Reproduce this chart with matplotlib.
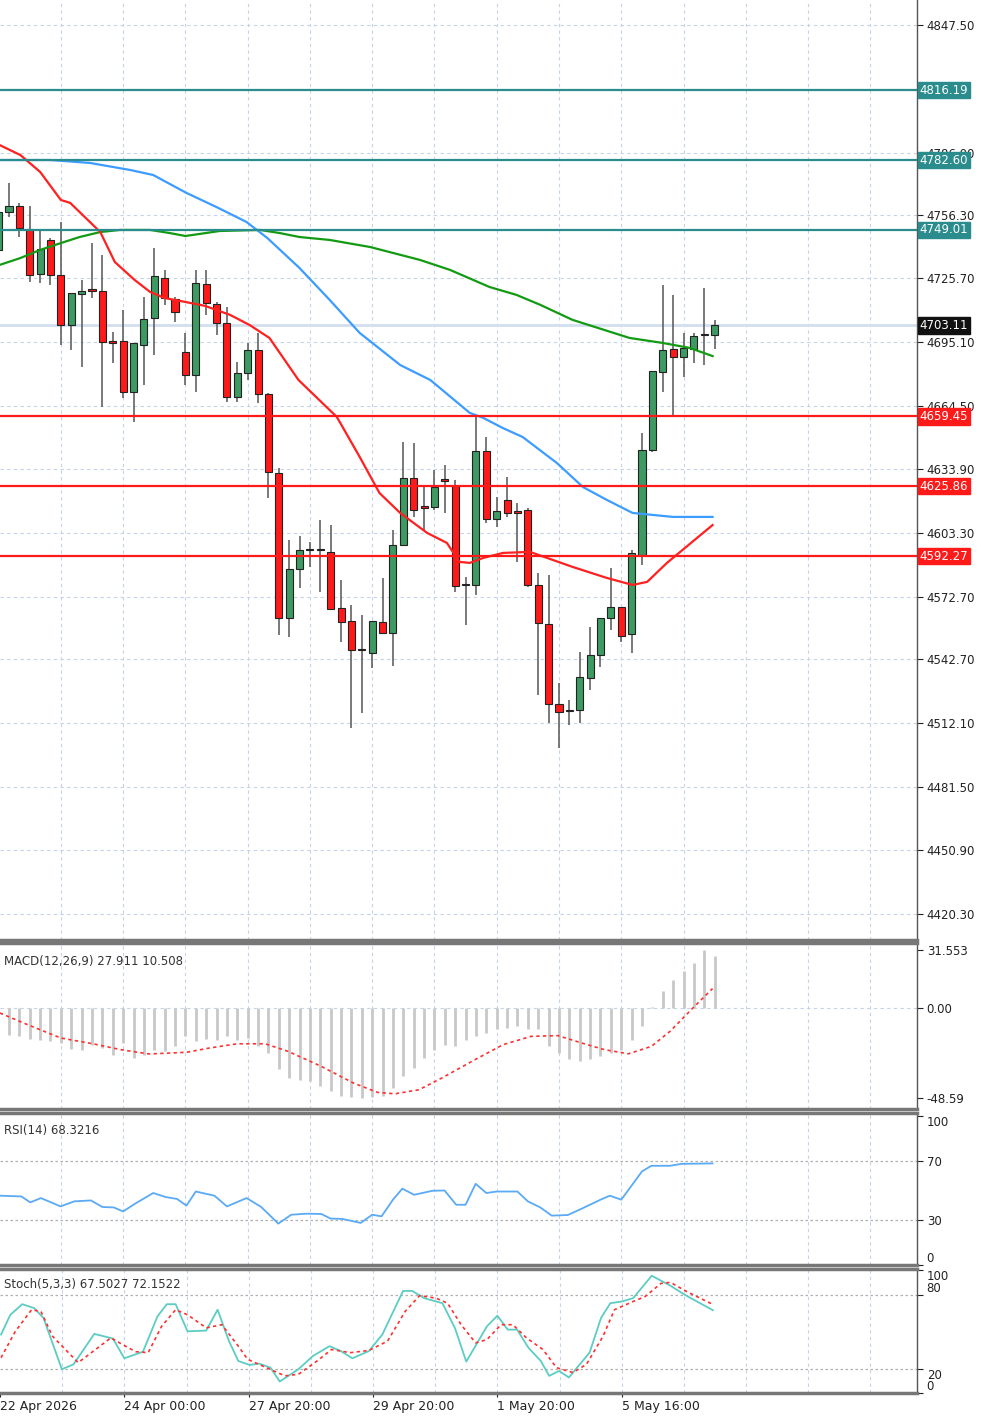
import numpy as np
import matplotlib
matplotlib.use("Agg")
import matplotlib.pyplot as plt

# ---------------- data ----------------
opens = [4739.4,4757.6,4760.5,4749.5,4727.9,4744.2,4727.4,4703.3,4718.2,4720.2,
         4719.7,4695.2,4695.7,4671.1,4693.7,4706.7,4725.9,4715.8,4690.4,4679.3,
         4723.0,4713.4,4704.3,4668.7,4680.3,4691.3,4670.2,4632.2,4562.5,4586.1,
         4595.2,4595.2,4594.3,4567.4,4561.1,4547.2,4545.7,4560.6,4555.4,4597.6,
         4629.8,4615.9,4615.9,4628.9,4626.0,4578.4,4578.4,4642.8,4610.1,4619.3,
         4613.5,4614.5,4578.4,4559.7,4521.2,4517.9,4518.4,4533.7,4544.8,4562.5,
         4567.8,4554.9,4592.8,4643.3,4680.8,4691.8,4688.0,4691.8,4698.6,4698.6]
highs = [4763.4,4771.6,4762.0,4760.5,4749.0,4745.1,4752.8,4718.7,4725.0,4742.7,
         4737.0,4700.0,4710.5,4694.7,4716.8,4740.3,4729.8,4716.8,4699.5,4729.8,
         4729.8,4714.4,4712.0,4685.6,4694.7,4699.5,4670.7,4634.6,4600.0,4602.0,
         4599.1,4609.6,4607.2,4580.8,4568.8,4564.0,4561.1,4581.8,4604.8,4647.1,
         4646.6,4625.5,4633.7,4636.1,4628.9,4582.3,4660.1,4649.5,4620.8,4630.3,
         4617.8,4615.4,4584.2,4583.2,4531.3,4523.2,4546.2,4558.2,4562.5,4586.6,
         4567.8,4595.2,4651.4,4681.2,4722.6,4717.8,4699.5,4699.5,4721.1,4705.8]
lows = [4735.5,4755.2,4745.6,4724.0,4723.5,4722.6,4693.7,4691.3,4683.2,4716.3,
        4663.9,4685.1,4668.3,4656.7,4674.5,4688.9,4713.0,4704.8,4674.5,4671.1,
        4708.2,4698.5,4666.3,4666.3,4676.9,4665.9,4620.2,4554.4,4553.4,4577.0,
        4587.1,4575.0,4566.9,4551.0,4509.7,4516.9,4538.5,4555.4,4539.5,4597.6,
        4611.1,4604.8,4614.4,4613.0,4575.0,4559.2,4573.6,4608.2,4606.3,4611.1,
        4589.5,4577.4,4525.5,4512.1,4500.1,4511.1,4512.1,4528.0,4539.0,4556.8,
        4551.0,4545.7,4588.0,4642.3,4671.1,4660.1,4678.4,4685.1,4684.1,4691.8]
closes = [4757.6,4760.5,4750.0,4727.4,4739.9,4727.4,4703.3,4718.7,4719.7,4719.9,
          4695.2,4694.9,4671.1,4694.7,4706.2,4726.9,4716.3,4709.6,4679.3,4723.5,
          4713.9,4704.3,4668.7,4680.3,4691.3,4670.2,4632.7,4562.5,4586.1,4595.2,
          4595.2,4595.0,4566.9,4560.6,4547.2,4547.0,4561.1,4555.4,4597.6,4629.8,
          4614.4,4615.6,4625.5,4628.6,4577.9,4578.2,4642.8,4610.1,4614.0,4613.0,
          4613.2,4578.4,4560.2,4521.2,4517.4,4517.6,4534.2,4544.8,4562.5,4567.8,
          4553.9,4593.8,4643.3,4681.2,4691.3,4688.0,4692.3,4698.1,4698.3,4703.1]

ma_red_x = [0.1,2.1,4.0,6.0,6.9,8.8,9.8,11.2,13.1,14.6,16.0,18.0,19.9,22.3,24.2,26.1,28.9,32.6,
            34.8,36.7,38.7,41.3,43.2,44.4,45.4,46.7,48.6,51.2,55.3,58.6,61.1,62.5,64.4,65.9,68.8]
ma_red_y = [4789.8,4785.0,4776.9,4763.4,4762.0,4752.8,4748.0,4733.6,4725.0,4719.2,4716.3,4714.4,
            4712.5,4708.2,4703.3,4697.1,4676.9,4659.1,4639.9,4622.6,4613.0,4603.4,4598.6,4589.5,
            4589.0,4591.4,4593.8,4594.3,4587.1,4581.8,4578.4,4579.9,4589.0,4595.2,4607.2]
ma_blue_x = [0.1,5.0,8.8,12.7,14.9,18.1,21.0,23.9,25.9,29.0,31.9,34.8,38.7,41.6,45.4,46.7,48.6,
             50.5,53.8,56.3,58.6,61.1,65.0,68.8]
ma_blue_y = [4782.6,4782.6,4781.2,4777.8,4775.4,4766.8,4760.0,4752.8,4745.1,4730.7,4715.4,4699.5,
             4684.1,4676.9,4661.1,4658.7,4653.8,4649.5,4637.0,4625.5,4619.3,4613.0,4611.1,4611.1]
ma_green_x = [0.1,2.1,4.0,6.0,7.8,9.8,11.7,14.6,16.5,18.0,19.4,21.3,25.2,27.1,29.0,31.9,35.8,40.6,
              43.5,47.3,49.9,52.2,55.3,60.8,64.0,66.6,68.8]
ma_green_y = [4732.2,4735.5,4739.4,4742.7,4745.6,4748.0,4749.0,4749.0,4747.5,4746.1,4747.1,4748.5,
              4749.0,4747.5,4745.6,4744.2,4740.8,4734.6,4729.8,4721.6,4717.8,4713.0,4705.8,4697.1,
              4694.7,4692.3,4688.4]

teal_levels = [4816.19, 4782.60, 4749.01]
red_levels = [4659.45, 4625.86, 4592.27]
last_price = 4703.11
price_ticks = [4847.50,4816.90,4786.00,4756.30,4725.70,4695.10,4664.50,4633.90,4603.30,
               4572.70,4542.70,4512.10,4481.50,4450.90,4420.30]
hidden_ticks = [4816.90]

macd_hist = [-14.4,-15.3,-16.7,-17.5,-18.0,-18.9,-22.1,-22.5,-19.8,-21.6,-25.2,-18.9,-27.0,-25.2,
             -22.5,-23.4,-20.3,-15.3,-18.0,-16.7,-17.1,-15.3,-17.1,-16.2,-20.3,-24.3,-32.9,-37.8,
             -38.7,-39.6,-42.3,-45.0,-47.3,-48.1,-48.5,-48.1,-47.7,-43.2,-36.5,-32.4,-27.0,-22.5,
             -19.8,-20.3,-17.1,-15.3,-13.5,-11.3,-10.8,-9.5,-11.3,-11.3,-20.3,-24.3,-27.5,-28.8,
             -27.5,-26.1,-24.3,-22.5,-17.1,-9.5,0.5,9.0,15.3,19.8,24.3,31.5,27.9]
macd_sig_x = [0.13,2.8,6.0,9.1,11.8,14.5,18.1,20.3,23.0,25.7,27.9,31.1,34.2,36.5,38.2,40.5,42.7,
              45.9,48.6,51.3,53.9,56.2,58.4,60.7,62.9,64.7,66.9,68.8]
macd_sig_y = [-2.7,-9.0,-16.2,-19.3,-22.5,-24.8,-23.9,-21.6,-19.3,-19.3,-23.4,-31.5,-40.5,-45.5,
              -46.3,-44.1,-37.8,-27.9,-19.8,-15.3,-14.9,-18.9,-22.5,-24.7,-20.7,-12.6,0.0,10.5]

rsi_x = [0.1,2.2,3.05,4.08,5.97,7.3,8.9,10.0,11.1,12.0,13.1,14.9,16.1,17.2,18.1,19.0,20.8,22.0,
         23.9,25.3,26.4,26.95,28.2,29.7,31.1,32.0,33.1,34.9,36.0,36.9,38.0,38.9,40.05,41.8,42.97,
         44.1,45.0,45.97,47.0,48.0,50.0,51.0,52.2,53.3,54.85,56.2,58.0,58.9,60.0,62.0,62.9,64.7,
         65.8,68.8]
rsi_y = [46.6,46.1,42.1,45.0,39.4,42.8,43.4,39.0,38.7,36.0,41.0,48.4,45.7,44.4,39.9,49.4,46.6,
         39.4,45.0,39.0,31.6,27.8,33.8,34.5,34.3,31.2,31.0,28.3,33.8,32.7,43.9,51.3,47.2,49.9,
         50.1,40.5,40.5,54.6,48.4,49.4,49.4,42.8,38.7,33.2,33.6,37.9,43.9,46.6,43.9,62.9,66.7,
         66.7,68.0,68.3]

stk_x = [0.1,1.0,2.15,3.3,4.2,5.97,7.1,9.1,10.9,12.0,13.8,15.2,16.1,16.95,18.1,19.9,21.0,22.1,
         23.0,24.1,25.0,26.1,27.0,28.8,30.2,31.8,32.9,34.0,35.6,36.9,38.9,39.8,40.95,42.7,43.9,
         45.0,47.0,48.0,49.0,49.9,51.0,52.2,53.0,53.95,54.9,56.9,58.0,58.9,60.0,61.1,62.9,64.7,
         66.1,68.8]
stk_main = [47.7,63.8,72.4,69.2,61.1,19.4,23.4,48.2,44.4,28.3,33.7,62.5,72.4,72.4,50.3,50.9,
            67.9,42.3,26.1,22.9,24.0,20.7,9.4,19.4,30.2,38.2,34.2,28.3,34.2,47.7,83.2,83.2,77.3,
            73.2,53.1,25.6,54.4,63.0,51.7,51.7,36.9,26.1,14.0,18.0,12.7,32.9,61.1,73.2,74.6,
            77.3,95.6,87.5,80.0,67.5]
sig_x = [0.1,1.48,3.05,3.95,5.07,7.54,9.1,10.7,11.8,13.1,14.3,15.6,16.95,18.1,19.9,21.4,23.0,
         23.9,25.7,27.5,28.8,30.6,32.0,33.8,35.6,37.4,39.1,40.5,42.1,43.2,44.5,45.9,47.0,48.35,
         49.5,50.8,52.4,53.7,55.3,56.6,58.2,59.3,61.1,62.25,63.8,64.7,66.3,68.8]
stk_sig = [28.8,50.3,67.9,66.5,46.3,24.8,34.7,45.0,39.6,33.7,32.9,54.4,67.9,63.8,53.1,55.7,
           38.2,27.5,20.7,14.0,15.3,26.1,35.5,32.9,34.7,42.3,66.5,79.4,77.3,73.2,55.7,40.9,
           43.6,55.7,55.7,45.0,35.5,20.7,16.7,23.4,46.3,67.9,74.6,78.6,89.4,90.2,82.6,72.2]

date_labels = ["22 Apr 2026", "24 Apr 00:00", "27 Apr 20:00", "29 Apr 20:00",
               "1 May 20:00", "5 May 16:00"]
date_pos = [0, 12, 24, 36, 48, 60]

# ---------------- drawing ----------------
plt.rcParams['font.family'] = ['DejaVu Sans']
fig = plt.figure(figsize=(10, 14.18), dpi=100)
W = 0.917
ax = fig.add_axes([0, 0.3371, W, 0.6629])
ax_m = fig.add_axes([0, 0.2179, W, 0.1171])
ax_r = fig.add_axes([0, 0.1079, W, 0.1072])
ax_s = fig.add_axes([0, 0.0176, W, 0.0874])
XL = (0.135, 88.5)
grid_c = '#c5d3e8'
fs = 8.5

for a in (ax, ax_m, ax_r, ax_s):
    a.set_xlim(*XL)
    a.yaxis.tick_right()
    a.tick_params(axis='y', direction='out', length=4, labelsize=fs, pad=3, colors='#222222')
    a.tick_params(axis='x', length=0, labelbottom=False)
    for s in a.spines.values():
        s.set_color('#555555'); s.set_linewidth(1)
    a.spines['top'].set_linewidth(2.5); a.spines['top'].set_color('#777777')
    a.spines['bottom'].set_linewidth(2.5); a.spines['bottom'].set_color('#777777')
    a.spines['left'].set_visible(False)
    for g in range(6, 90, 6):
        a.axvline(g, color=grid_c, ls=(0, (3, 3)), lw=0.8, zorder=0)
ax.spines['top'].set_visible(False)

# main
ax.set_ylim(4407.8, 4859.5)
ax.set_yticks(price_ticks)
ax.set_yticklabels(["" if t in hidden_ticks else f"{t:.2f}" for t in price_ticks])
for t in price_ticks:
    ax.axhline(t, color=grid_c, ls=(0, (3, 3)), lw=0.8, zorder=0)
ax.axhline(last_price, color='#d3dff0', lw=2, zorder=1)

idx = np.arange(len(opens))
o = np.array(opens); c = np.array(closes); h = np.array(highs); l = np.array(lows)
ax.vlines(idx, l, h, color='#555555', lw=1.1, zorder=3)
up = c >= o
bot = np.minimum(o, c)
ht = np.maximum(np.abs(c - o), 0.6)
ax.bar(idx[up], ht[up], bottom=bot[up], width=0.68, color='#3d9a62', edgecolor='#222222', lw=0.8, zorder=4)
ax.bar(idx[~up], ht[~up], bottom=bot[~up], width=0.68, color='#ff1a1a', edgecolor='#222222', lw=0.8, zorder=4)

ax.plot(ma_green_x, ma_green_y, color='#139a13', lw=1.6, zorder=5)
ax.plot(ma_blue_x, ma_blue_y, color='#3c9cff', lw=1.6, zorder=5)
ax.plot(ma_red_x, ma_red_y, color='#ff2020', lw=1.6, zorder=5)

def tag(lv, col):
    ax.text(1.003, lv, f"{lv:.2f}", transform=ax.get_yaxis_transform(), va='center', ha='left',
            fontsize=fs, color='white', clip_on=False, zorder=10,
            bbox=dict(boxstyle='square,pad=0.15', fc=col, ec=col))

for lv in teal_levels:
    ax.axhline(lv, color='#2a8c8c', lw=1.6, zorder=6)
    tag(lv, '#2a8c8c')
for lv in red_levels:
    ax.axhline(lv, color='#ff1a1a', lw=1.6, zorder=6)
    tag(lv, '#ff1a1a')
tag(last_price, '#111111')

# MACD
ax_m.set_ylim(-54.5, 35.1)
ax_m.set_yticks([31.553, 0.0, -48.59])
ax_m.set_yticklabels(["31.553", "0.00", "-48.59"])
ax_m.axhline(0, color=grid_c, ls=(0, (3, 3)), lw=0.8, zorder=0)
mi = np.arange(1, len(macd_hist) + 1)
ax_m.vlines(mi, 0, macd_hist, color='#c8c8c8', lw=2, zorder=2)
ax_m.plot(macd_sig_x, macd_sig_y, color='#ff3030', ls=(0, (2, 2)), lw=1.2, zorder=3)
ax_m.text(0.004, 0.93, "MACD(12,26,9) 27.911 10.508", transform=ax_m.transAxes, fontsize=fs,
          va='top', ha='left', color='#333333')

# RSI
ax_r.set_ylim(0.3, 102.2)
ax_r.set_yticks([100, 70, 30, 0])
ax_r.set_yticklabels(["100", "70", "30", "0"])
lbls = ax_r.get_yticklabels()
lbls[0].set_va('top'); lbls[3].set_va('bottom')
for lv in (70, 30):
    ax_r.axhline(lv, color='#b0b0b0', ls=(0, (2, 2)), lw=0.9, zorder=0)
ax_r.plot(rsi_x, rsi_y, color='#5aaaf5', lw=1.3, zorder=3)
ax_r.text(0.004, 0.93, "RSI(14) 68.3216", transform=ax_r.transAxes, fontsize=fs,
          va='top', ha='left', color='#333333')

# Stochastic
ax_s.set_ylim(0.8, 101)
ax_s.set_yticks([100, 80, 20, 0])
ax_s.set_yticklabels(["100", "80", "20", "0"])
lbls = ax_s.get_yticklabels()
lbls[0].set_va('top'); lbls[1].set_va('bottom'); lbls[2].set_va('top'); lbls[3].set_va('bottom')
for lv in (80, 20):
    ax_s.axhline(lv, color='#b0b0b0', ls=(0, (2, 2)), lw=0.9, zorder=0)
ax_s.plot(stk_x, stk_main, color='#5ccdc4', lw=1.3, zorder=3)
ax_s.plot(sig_x, stk_sig, color='#ff3030', ls=(0, (2, 2)), lw=1.2, zorder=3)
ax_s.text(0.004, 0.93, "Stoch(5,3,3) 67.5027 72.1522", transform=ax_s.transAxes, fontsize=fs,
          va='top', ha='left', color='#333333')
ax_s.set_xticks(date_pos)
ax_s.tick_params(axis='x', length=3, direction='out', labelbottom=True, labelsize=fs + 0.5,
                 pad=2, colors='#222222')
ax_s.set_xticklabels(date_labels, ha='left')

fig.savefig("out.png", dpi=100, facecolor='white')
